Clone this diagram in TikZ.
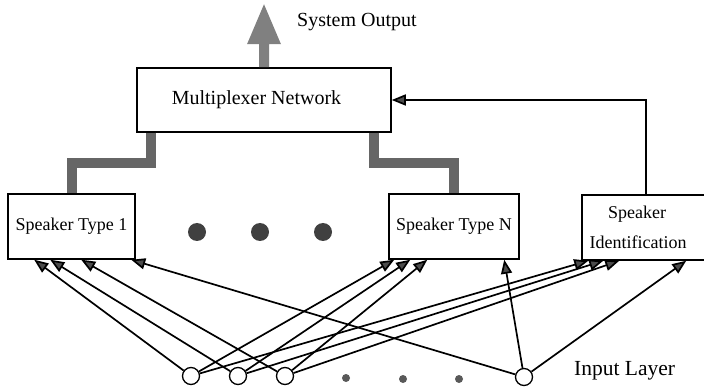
\documentclass[tikz,border=0pt]{standalone}
\usepackage{fontspec}
\setmainfont{Liberation Serif}
\usetikzlibrary{arrows.meta}
\begin{document}
\begin{tikzpicture}[x=1pt,y=-1pt,
  box/.style={draw, line width=1.5pt, inner sep=0pt},
  fat/.style={line width=10pt, draw=black!60, line join=miter},
  arr/.style={line width=1.7pt, -{Triangle[length=14pt,width=11pt,fill=black!70]}},
  inp/.style={circle, draw, line width=1.3pt, fill=white, minimum size=17pt, inner sep=0pt},
  bigdot/.style={circle, fill=black!75, minimum size=18pt, inner sep=0pt},
  smalldot/.style={circle, fill=black!65, minimum size=8pt, inner sep=0pt},
  lbl/.style={inner sep=0pt, anchor=base west}]
\useasboundingbox (0,0) rectangle (704,387);

% boxes
\node[box, minimum width=254pt, minimum height=64pt, font=\fontsize{20}{24}\selectfont] (mux) at (264,100) {Multiplexer Network\hspace*{15pt}};
\node[box, minimum width=127pt, minimum height=65pt, font=\fontsize{18}{22}\selectfont] (st1) at (71.5,226.5) {Speaker Type 1};
\node[box, minimum width=130pt, minimum height=65pt, font=\fontsize{18}{22}\selectfont] (stn) at (454,226.5) {Speaker Type N};
\node[box, minimum width=140pt, minimum height=65pt, align=center, font=\fontsize{18}{30}\selectfont] (sid) at (652,227.5) {Speaker\hspace*{30pt}\\Identification\hspace*{28pt}};

% ellipsis dots
\node[bigdot] (d1) at (197,232) {};
\node[bigdot] (d2) at (260,232) {};
\node[bigdot] (d3) at (323,232) {};

% input layer
\node[inp] (in1) at (191,376) {};
\node[inp] (in2) at (238,376) {};
\node[inp] (in3) at (285,376) {};
\node[inp] (in4) at (524,377) {};
\node[smalldot] (s1) at (346,378) {};
\node[smalldot] (s2) at (403,379) {};
\node[smalldot] (s3) at (459,379) {};

% labels
\node[lbl, font=\fontsize{20}{24}\selectfont] (sysout) at (297,27) {System Output};
\node[lbl, font=\fontsize{21.5}{25}\selectfont] (inlayer) at (574,375) {Input Layer};

% system output arrow
\fill[black!50] ([xshift=-5pt]mux.north) -- ++(0,-23) -- ++(-12,0) -- ++(17,-40) -- ++(17,40) -- ++(-12,0) -- ++(0,23) -- cycle;

% fat connectors
\draw[fat] ([xshift=15pt]mux.south west) -- ++(0,30) -| (st1.north);
\draw[fat] ([xshift=-18pt]mux.south east) -- ++(0,30) -| (stn.north);

% feedback
\draw[arr] ([xshift=-6pt]sid.north) |- (mux.east);

% input connections
\draw[arr] (in1) -- ([xshift=27pt]st1.south west);
\draw[arr] (in2) -- ([xshift=43pt]st1.south west);
\draw[arr] (in3) -- ([xshift=74pt]st1.south west);
\draw[arr] (in4) -- ([xshift=124pt]st1.south west);

\draw[arr] (in1) -- ([xshift=6pt]stn.south west);
\draw[arr] (in2) -- ([xshift=22pt]stn.south west);
\draw[arr] (in3) -- ([xshift=39pt]stn.south west);
\draw[arr] (in4) -- ([xshift=116pt]stn.south west);

\draw[arr] (in1) -- ([xshift=7pt]sid.south west);
\draw[arr] (in2) -- ([xshift=22pt]sid.south west);
\draw[arr] (in3) -- ([xshift=38pt]sid.south west);
\draw[arr] (in4) -- ([xshift=105pt]sid.south west);
\end{tikzpicture}
\end{document}
